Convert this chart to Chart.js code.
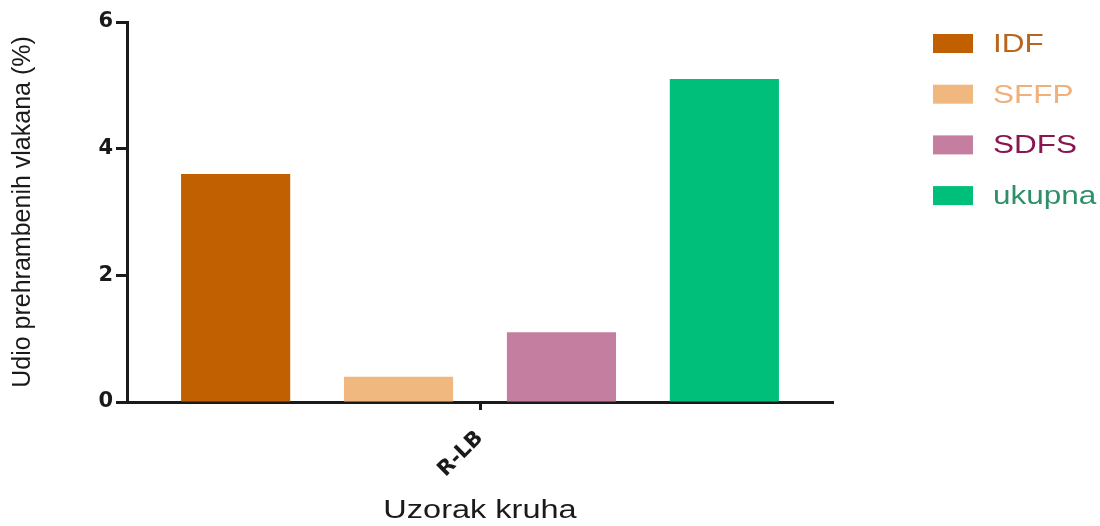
<!DOCTYPE html>
<html>
<head>
<meta charset="utf-8">
<script src="https://cdn.jsdelivr.net/npm/chart.js@4"></script>
<style>
  html, body { margin: 0; padding: 0; background: #fff; }
  #wrap { width: 1100px; height: 526px; }
</style>
</head>
<body>
<div id="wrap"><canvas id="fiberChart" width="1100" height="526"></canvas></div>
<script>
// data
const categories = ['R-LB'];
const seriesNames = ['IDF', 'SFFP', 'SDFS', 'ukupna'];
const seriesValues = [[3.6], [0.4], [1.1], [5.1]];
const yTicks = [0, 2, 4, 6];

const barColors = ['#C06000', '#F0B87E', '#C47EA0', '#00BF7A'];
const textColors = ['#B8651E', '#EFB07A', '#8A1650', '#2E8F68'];
const fontFam = '"Liberation Sans", Arial, sans-serif';
const boldFam = '"DejaVu Sans", "Liberation Sans", sans-serif';

// the reference image is stretched sideways, so these texts get a wider scale
const sideText = {
  id: 'sideText',
  afterDraw(chart) {
    const c = chart.ctx;
    c.save();
    c.font = '25px ' + fontFam;
    c.textBaseline = 'middle';
    seriesNames.forEach((name, i) => {
      const y = 44 + i * 50.7;
      c.fillStyle = barColors[i];
      c.fillRect(933, y - 10, 40, 19);
      c.save();
      c.translate(993, y);
      c.scale(1.26, 1);
      c.fillStyle = textColors[i];
      c.fillText(name, 0, 1);
      c.restore();
    });
    // x axis title
    const xs = chart.scales.x;
    c.save();
    c.translate((xs.left + xs.right) / 2, 511);
    c.scale(1.3, 1);
    c.fillStyle = '#1a1a1a';
    c.textAlign = 'center';
    c.fillText('Uzorak kruha', 0, 0);
    c.restore();
    c.restore();
  }
};

const ctx = document.getElementById('fiberChart').getContext('2d');
const fiberChart = new Chart(ctx, {
  type: 'bar',
  data: {
    labels: categories,
    datasets: seriesNames.map((name, i) => ({
      label: name,
      data: seriesValues[i],
      backgroundColor: barColors[i],
      borderWidth: 0,
      barPercentage: 0.67,
      categoryPercentage: 0.923
    }))
  },
  options: {
    responsive: false,
    animation: false,
    layout: { padding: { left: 0, right: 267, top: 22, bottom: 0 } },
    plugins: {
      legend: { display: false },
      tooltip: { enabled: false }
    },
    scales: {
      x: {
        border: { display: true, color: '#1a1a1a', width: 3 },
        grid: { display: true, drawOnChartArea: false, offset: false, tickLength: 8, tickWidth: 3, tickColor: '#1a1a1a' },
        ticks: {
          color: '#1a1a1a',
          font: { family: boldFam, size: 21, weight: 'bold' },
          maxRotation: 45,
          minRotation: 45,
          padding: 16
        },
        afterFit(scale) { scale.height = 124; }
      },
      y: {
        min: 0,
        max: 6,
        afterBuildTicks(scale) { scale.ticks = yTicks.map(v => ({ value: v })); },
        border: { display: true, color: '#1a1a1a', width: 3 },
        grid: { display: true, drawOnChartArea: false, tickLength: 11, tickWidth: 3, tickColor: '#1a1a1a' },
        ticks: {
          color: '#1a1a1a',
          font: { family: boldFam, size: 21, weight: 'bold' },
          padding: 3
        },
        title: {
          display: true,
          text: 'Udio prehrambenih vlakana (%)',
          color: '#1a1a1a',
          font: { family: fontFam, size: 25 },
          padding: { top: 8, bottom: 0 }
        },
        afterFit(scale) { scale.width = 127; }
      }
    }
  },
  plugins: [sideText]
});
</script>
</body>
</html>
